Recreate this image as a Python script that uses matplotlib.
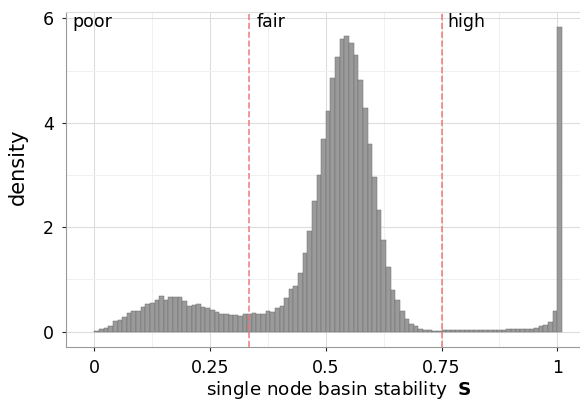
import numpy as np
import matplotlib
matplotlib.use('Agg')
import matplotlib.pyplot as plt
from matplotlib.ticker import MultipleLocator

# histogram of single node basin stability, bin width 0.01 from 0 to 1.01
bin_width = 0.01
density = [
    0.013, 0.045, 0.07, 0.11, 0.2, 0.22, 0.28, 0.36, 0.4, 0.4,
    0.48, 0.54, 0.55, 0.61, 0.69, 0.6, 0.67, 0.66, 0.66, 0.58,
    0.5, 0.52, 0.53, 0.47, 0.45, 0.41, 0.38, 0.34, 0.34, 0.32,
    0.32, 0.31, 0.34,
    0.34, 0.36, 0.34, 0.33, 0.39, 0.37, 0.46, 0.5, 0.65, 0.81,
    0.88, 1.12, 1.5, 1.93, 2.51, 3.0,
    3.68, 4.22, 4.85, 5.25, 5.61, 5.66, 5.52, 5.29, 4.81, 4.29,
    3.6, 2.97, 2.33, 1.76, 1.24, 0.8, 0.6, 0.4, 0.25, 0.15, 0.1,
    0.06, 0.04, 0.03, 0.015, 0.01, 0.025,
    0.03, 0.025, 0.03, 0.03, 0.025, 0.03, 0.035, 0.03, 0.035, 0.03,
    0.035, 0.04, 0.04, 0.045, 0.05, 0.05,
    0.05, 0.06, 0.06, 0.07, 0.1, 0.13, 0.19, 0.4, 5.83,
]
edges = np.arange(len(density)) * bin_width

thresholds = [1 / 3, 0.75]
region_labels = ['poor', 'fair', 'high']
region_x = [-0.048, 0.351, 0.762]

xticks = [0, 0.25, 0.5, 0.75, 1]
xtick_labels = ['0', '0.25', '0.5', '0.75', '1']
yticks = [0, 2, 4, 6]

fig = plt.figure(figsize=(5.8, 4.01), dpi=100)
ax = fig.add_axes([0.114, 0.135, 0.886, 0.835])

ax.bar(edges, density, width=bin_width, align='edge',
       color='#9a9a9a', edgecolor='#6e6e6e', linewidth=0.35, zorder=2)

for t in thresholds:
    ax.axvline(t, color='#f07070', linestyle='--', linewidth=1.2, alpha=0.85, zorder=3)

for x, lab in zip(region_x, region_labels):
    ax.text(x, 6.1, lab, fontsize=12.5, va='top', ha='left')

ax.set_xlim(-0.061, 1.049)
ax.set_ylim(-0.29, 6.12)
ax.set_xticks(xticks)
ax.set_xticklabels(xtick_labels)
ax.set_yticks(yticks)
ax.xaxis.set_minor_locator(MultipleLocator(0.125))
ax.yaxis.set_minor_locator(MultipleLocator(1))
ax.tick_params(axis='both', which='major', labelsize=12.5, length=3, width=0.8,
               color='#222222', pad=6)
ax.tick_params(axis='both', which='minor', length=0)
ax.grid(which='major', color='#dddddd', linewidth=0.8, zorder=0)
ax.grid(which='minor', color='#f0f0f0', linewidth=0.8, zorder=0)
ax.set_axisbelow(True)

for side in ['left', 'bottom']:
    ax.spines[side].set_color('#999999')
ax.spines['top'].set_color('#dddddd')
ax.spines['right'].set_visible(False)

ax.set_xlabel(r'single node basin stability  $\mathbf{S}$', fontsize=13.2)
ax.set_ylabel('density', fontsize=15)
ax.xaxis.set_label_coords(0.531, -0.095)
ax.yaxis.set_label_coords(-0.074, 0.537)

fig.savefig('out.png', dpi=100)
